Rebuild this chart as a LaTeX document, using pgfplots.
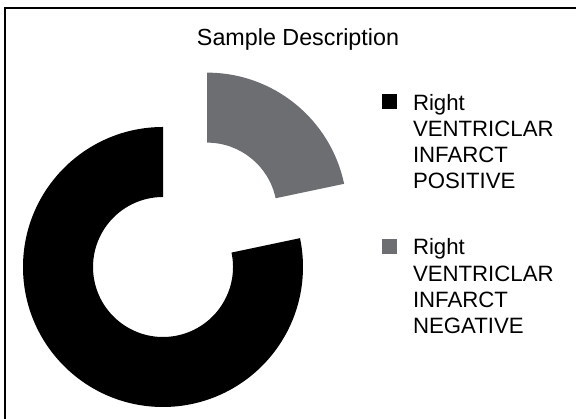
\documentclass[border=0pt]{standalone}
\usepackage{fontspec}
\setmainfont{Liberation Sans}
\usepackage{pgfplots}
\usepackage{pgfplotstable}
\pgfplotsset{compat=1.18}
\definecolor{neggray}{RGB}{109,110,114}
\pgfplotstableread{
label value
positive 78.3
negative 21.7
}\piedata
\newcommand\lentry[1]{\fontsize{22.2}{26.2}\selectfont\begin{tabular}[t]{@{}l@{}}Right\\VENTRICLAR\\INFARCT\\#1\end{tabular}}
\begin{document}
\begin{tikzpicture}
\pgfplotstablegetelem{0}{value}\of\piedata \let\vpos\pgfplotsretval
\pgfplotstablegetelem{1}{value}\of\piedata \let\vneg\pgfplotsretval
\def\cx{163}\def\cy{152}\def\R{140}\def\r{70}\def\expl{70}
\pgfmathsetmacro\aA{90}
\pgfmathsetmacro\aB{90+3.6*\vpos}
\pgfmathsetmacro\aC{\aB+3.6*\vneg}
\pgfmathsetmacro\am{(\aB+\aC)/2}
\pgfmathsetmacro\gx{\cx+\expl*cos(\am)}
\pgfmathsetmacro\gy{\cy+\expl*sin(\am)}
% black slice points
\pgfmathsetmacro\bOx{\cx+\R*cos(\aA)}
\pgfmathsetmacro\bOy{\cy+\R*sin(\aA)}
\pgfmathsetmacro\bIx{\cx+\r*cos(\aB)}
\pgfmathsetmacro\bIy{\cy+\r*sin(\aB)}
% gray slice points
\pgfmathsetmacro\gOx{\gx+\R*cos(\aB)}
\pgfmathsetmacro\gOy{\gy+\R*sin(\aB)}
\pgfmathsetmacro\gIx{\gx+\r*cos(\aC)}
\pgfmathsetmacro\gIy{\gy+\r*sin(\aC)}
\begin{axis}[
  x=1pt, y=1pt, xmin=0, xmax=576, ymin=0, ymax=419,
  hide axis, clip=false, scale only axis,
  legend image code/.code={\path[draw=none,fill=none] (0pt,0pt) rectangle (15pt,15pt);
    \fill[#1,draw=none,overlay] (0pt,35pt) rectangle (15pt,50pt);},
  legend style={at={(axis cs:382,327.2)}, anchor=north west, draw=none, fill=none,
    inner sep=0pt, outer sep=0pt, row sep=40pt, column sep=16pt,
    nodes={inner sep=0pt, outer sep=0pt, text depth=, text height=}, cells={anchor=base west}},
  legend cell align=left,
]
\addlegendimage{black}
\addlegendentry{\lentry{POSITIVE}}
\addlegendimage{neggray}
\addlegendentry{\lentry{NEGATIVE}}
\fill[black] (axis cs:\bOx,\bOy) arc[start angle=\aA, end angle=\aB, radius=\R pt]
  -- (axis cs:\bIx,\bIy) arc[start angle=\aB, end angle=\aA, radius=\r pt] -- cycle;
\fill[neggray] (axis cs:\gOx,\gOy) arc[start angle=\aB, end angle=\aC, radius=\R pt]
  -- (axis cs:\gIx,\gIy) arc[start angle=\aC, end angle=\aB, radius=\r pt] -- cycle;
\node[anchor=base, font=\fontsize{23.3}{28}\selectfont] at (axis cs:298,373) {Sample Description};
\draw[line width=1.8pt] (axis cs:578,411) -- (axis cs:5,411) -- (axis cs:5,-2);
\end{axis}
\pgfresetboundingbox
\useasboundingbox (0,0) rectangle (576pt,419pt);
\end{tikzpicture}
\end{document}
